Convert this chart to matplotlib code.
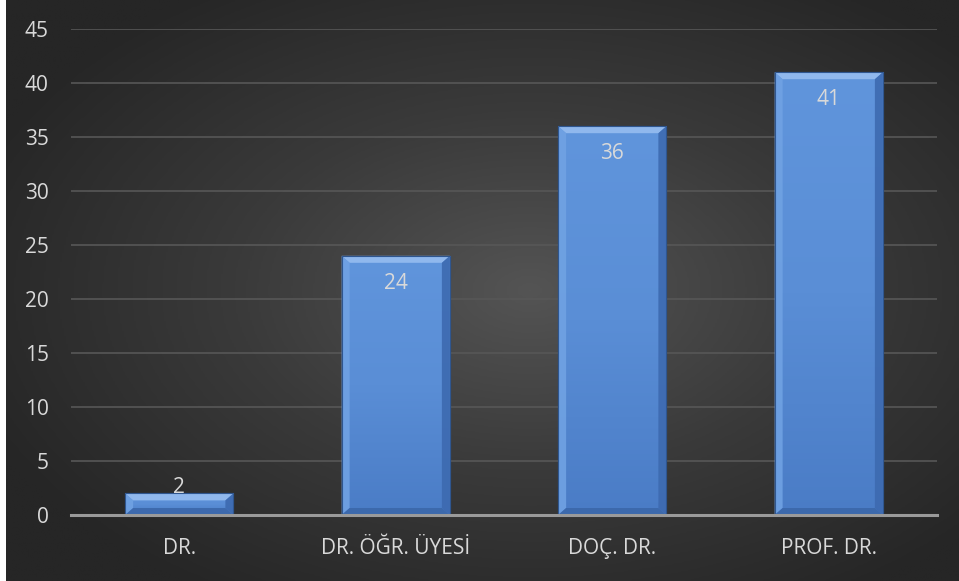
import numpy as np
import matplotlib
matplotlib.use("Agg")
import matplotlib.pyplot as plt
from matplotlib.patches import Polygon, Rectangle
from matplotlib.colors import LinearSegmentedColormap

plt.rcParams['font.family'] = ['Open Sans', 'DejaVu Sans']

categories = ["DR.", "DR. ÖĞR. ÜYESİ", "DOÇ. DR.", "PROF. DR."]
values = [2, 24, 36, 41]
y_ticks = [0, 5, 10, 15, 20, 25, 30, 35, 40, 45]

W, H, DPI = 959, 581, 100
fig = plt.figure(figsize=(W / DPI, H / DPI), dpi=DPI)
fig.patch.set_facecolor("white")

# dark radial backdrop (leaves a thin white margin on the left)
bg = fig.add_axes([6 / W, 0, 1 - 6 / W, 1])
bg.set_axis_off()
yy, xx = np.mgrid[0:1:300j, 0:1:500j]
r = np.sqrt(((xx - 0.55) / 0.62) ** 2 + ((yy - 0.5) / 0.62) ** 2)
r = np.clip(r, 0, 1)
bg_cmap = LinearSegmentedColormap.from_list("bg", ["#545454", "#3a3a3a", "#262626"])
bg.imshow(r, cmap=bg_cmap, aspect="auto", extent=[0, 1, 0, 1], vmin=0, vmax=1,
          interpolation="bilinear")
bg.set_xlim(0, 1)
bg.set_ylim(0, 1)

left, right = 71 / W, 937 / W
bottom, top = (H - 515) / H, (H - 29) / H
ax = fig.add_axes([left, bottom, right - left, top - bottom])
ax.set_facecolor("none")
ax.set_xlim(-0.5, len(categories) - 0.5)
ax.set_ylim(0, 45)

for s in ["top", "right", "left"]:
    ax.spines[s].set_visible(False)
ax.spines["bottom"].set_color("#9a9a9a")
ax.spines["bottom"].set_linewidth(2.2)
ax.spines["bottom"].set_zorder(6)

FS = 15
ax.set_yticks(y_ticks)
ax.yaxis.grid(True, color="#575757", linewidth=1.2)
ax.set_axisbelow(True)
ax.tick_params(axis="y", length=0, pad=16, labelsize=FS, labelcolor="#d9d9d9")
ax.tick_params(axis="x", length=0, pad=16.5, labelsize=FS, labelcolor="#d9d9d9")

x = np.arange(len(categories))
bar_w = 0.5
bars = ax.bar(x, values, width=bar_w, color="#5a8cd4", edgecolor="#2f568f",
              linewidth=0.8, zorder=3)
ax.set_xticks(x)
ax.set_xticklabels(categories)

face_cmap = LinearSegmentedColormap.from_list("face", ["#4a7cc6", "#5a8ed6", "#6095dc"])
grad = np.linspace(0, 1, 256).reshape(-1, 1)

# bevel sizes in data units (about 8 px across, 7 px down)
bx = 8 / (W * (right - left)) * len(categories)
by_px = 7 / (H * (top - bottom)) * 45

for xi, v, b in zip(x, values, bars):
    x0, x1 = xi - bar_w / 2, xi + bar_w / 2
    by = min(by_px, v / 3.0)
    im = ax.imshow(grad, cmap=face_cmap, aspect="auto", origin="lower",
                   extent=[x0, x1, 0, v], zorder=3.1, interpolation="bilinear")
    im.set_clip_path(b)
    ix0, ix1, iy0, iy1 = x0 + bx, x1 - bx, by, v - by
    bevels = [
        ([(x0, v), (x1, v), (ix1, iy1), (ix0, iy1)], "#96bdf0"),   # top
        ([(x0, 0), (x0, v), (ix0, iy1), (ix0, iy0)], "#70a2e3"),   # left
        ([(x1, 0), (x1, v), (ix1, iy1), (ix1, iy0)], "#3d6ab0"),   # right
        ([(x0, 0), (x1, 0), (ix1, iy0), (ix0, iy0)], "#3b67aa"),   # bottom
    ]
    for pts, c in bevels:
        ax.add_patch(Polygon(pts, closed=True, facecolor=c, edgecolor="none",
                             zorder=3.2, alpha=0.9))
    ax.add_patch(Rectangle((x0, 0), bar_w, v, fill=False, edgecolor="#2f568f",
                           linewidth=0.8, zorder=3.3))

    # value labels sit inside the top of the bar, or just above a short one
    if v >= 5:
        ax.annotate(str(v), (xi, v), xytext=(0, -20), textcoords="offset points",
                    ha="center", va="center", fontsize=FS, color="#d9d9d9", zorder=5)
    else:
        ax.annotate(str(v), (xi, v), xytext=(0, 4.5), textcoords="offset points",
                    ha="center", va="center", fontsize=FS, color="#d9d9d9", zorder=5)

fig.savefig("out.png", dpi=DPI, facecolor=fig.get_facecolor())
